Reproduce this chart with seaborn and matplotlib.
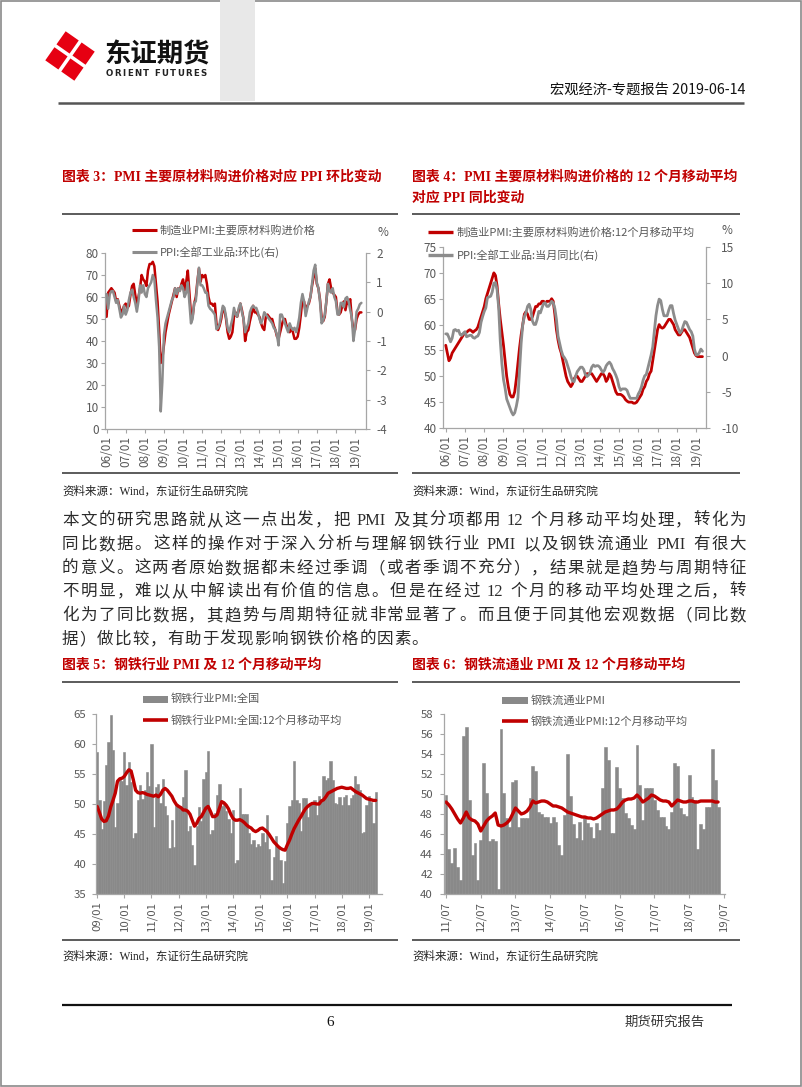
import re
import numpy as np
import matplotlib
matplotlib.use('Agg')
import matplotlib.pyplot as plt
import seaborn as sns
from matplotlib.lines import Line2D
from matplotlib.patches import Rectangle, Polygon

# ---------------- data ----------------
# Chart 3: monthly 2006-01 .. 2019-05
pmi_input_price = [
    51, 62, 63, 64, 63, 62, 58, 59, 56, 53, 54, 56,
    57, 55, 56, 61, 65, 66, 61, 57, 60, 64, 70, 68,
    67, 65, 72, 75, 75, 76, 74, 66, 58, 45, 30, 32,
    38, 44, 48, 52, 55, 58, 61, 64, 60, 64, 63, 66,
    68, 63, 67, 72, 62, 52, 51, 57, 60, 67, 73, 67,
    70, 69, 70, 66, 60, 57, 57, 56, 57, 48, 45, 47,
    50, 55, 54, 50, 44, 41, 42, 44, 51, 53, 51, 54,
    57, 54, 50, 40, 44, 45, 49, 52, 56, 53, 53, 52,
    51, 48, 46, 45, 51, 52, 51, 50, 50, 47, 45, 42,
    41, 44, 47, 50, 50, 47, 46, 44, 46, 44, 41, 41,
    42, 46, 52, 59, 58, 53, 56, 57, 60, 65, 69, 73,
    66, 64, 59, 51, 49, 51, 58, 66, 68, 64, 62, 61,
    60, 53, 52, 53, 56, 58, 54, 58, 57, 59, 50, 45,
    45, 50, 52, 53, 53,
]
ppi_mom = [
    0.6, 0.1, 0.6, 0.7, 0.7, 0.5, 0.3, 0.4, 0.1, -0.2, -0.1, 0.2,
    -0.1, 0.05, 0.4, 0.65, 0.75, 0.5, 0.3, 0.0, 0.35, 0.9, 0.65, 0.9,
    0.6, 0.5, 0.8, 0.9, 1.0, 1.25, 1.1, 0.4, -0.2, -1.2, -3.4, -2.4,
    -0.8, -0.4, -0.2, 0.0, 0.2, 0.4, 0.5, 0.8, 0.6, 0.8, 0.7, 0.9,
    0.8, 0.5, 0.65, 1.0, 0.3, -0.4, -0.25, 0.3, 0.35, 0.95, 1.5, 0.9,
    0.9, 0.8, 0.65, 0.65, 0.2, 0.1, 0.05, -0.02, -0.1, -0.6, -0.55, -0.4,
    -0.1, 0.2, 0.13, -0.17, -0.55, -0.7, -0.47, -0.25, 0.13, -0.1, -0.17, 0.13,
    0.28, -0.02, -0.25, -0.7, -0.55, -0.4, -0.02, 0.13, 0.2, 0.13, 0.13, -0.02,
    -0.25, -0.4, -0.25, -0.02, -0.1, -0.17, -0.25, -0.32, -0.4, -0.55, -0.62, -0.8,
    -1.15, -0.1, -0.1, -0.25, -0.4, -0.55, -0.7, -0.4, -0.55, -0.62, -0.55, -0.7,
    -0.5, -0.2, 0.3, 0.6, 0.35, -0.15, 0.1, 0.35, 0.5, 0.95, 1.4, 1.6,
    1.0, 0.8, 0.35, -0.4, -0.3, -0.1, 0.35, 0.95, 0.7, 0.65, 0.8, 0.5,
    0.35, -0.1, -0.1, 0.3, 0.3, 0.15, 0.45, 0.5, 0.35, 0.05, -0.2, -1.0,
    -0.6, 0.0, 0.1, 0.25, 0.3,
]
# Chart 4: monthly 2006-01 .. 2019-05
pmi_input_price_ma12 = [
    56, 54.5, 53, 53.5, 54.5, 55, 55.5, 56, 56.5, 57, 57.5, 58,
    58.5, 58.5, 58.8, 59, 58.8, 58.5, 58.8, 59, 59.5, 60.5, 61.5, 62.5,
    63.5, 65, 66, 67, 68, 69, 70, 69.5, 67.5, 64, 61, 58.5,
    56, 53, 50, 48, 46.5, 46, 46, 47, 49.5, 52.5, 55.5, 58,
    60, 62, 62.5, 62, 61, 61, 61.5, 62.5, 63.5, 63.5, 64, 64,
    64.5, 64.5, 64, 64.5, 64.5, 64.5, 65, 64.5, 62, 59, 57, 55.5,
    54.5, 53, 51.5, 50, 49, 48.5, 48, 48.5, 49.5, 50, 50, 49.5,
    49, 49, 49.5, 50, 50.5, 50.5, 50.5, 50.5, 50, 49.5, 49, 49.5,
    50, 50.5, 50.5, 50, 49, 49.5, 50.5, 50, 49, 48, 47, 46.5,
    46.5, 46.5, 46.3, 46, 45.5, 45.2, 45, 45, 45, 44.8, 44.8, 45,
    45.5, 46, 46.5, 47.5, 48, 49, 49.5, 50.5, 51, 53, 55, 57,
    59, 60, 59.5, 59.3, 59.5, 60, 60.5, 61, 61, 60.5, 60, 59,
    58.5, 58, 58, 58.5, 59, 59, 58.5, 58, 57.5, 56.5, 55.5, 54.5,
    54, 53.8, 53.8, 53.8, 53.8,
]
ppi_yoy = [
    3.0, 3.0, 2.5, 1.9, 2.4, 3.5, 3.6, 3.4, 3.5, 2.9, 2.8, 3.1,
    3.3, 2.6, 2.7, 2.8, 2.8, 2.5, 2.4, 2.6, 2.7, 3.2, 4.6, 5.4,
    6.1, 6.6, 8.0, 8.1, 8.2, 8.8, 10.0, 10.1, 9.1, 6.6, 2.0, -1.1,
    -3.3, -4.5, -6.0, -6.6, -7.2, -7.8, -8.2, -7.9, -7.0, -5.8, -2.1, 1.7,
    4.3, 5.4, 5.9, 6.8, 7.1, 6.4, 4.8, 4.3, 4.3, 5.0, 6.1, 5.9,
    6.6, 7.2, 7.3, 6.8, 6.8, 7.1, 7.5, 7.3, 6.5, 5.0, 2.7, 1.7,
    0.7, 0.0, -0.3, -0.7, -1.4, -2.1, -2.9, -3.5, -3.6, -2.8, -2.2, -1.9,
    -1.6, -1.6, -1.9, -2.6, -2.9, -2.7, -2.3, -1.6, -1.3, -1.5, -1.4, -1.4,
    -1.6, -2.0, -2.3, -2.0, -1.4, -1.1, -0.9, -1.2, -1.8, -2.2, -2.7, -3.3,
    -4.3, -4.8, -4.6, -4.6, -4.6, -4.8, -5.4, -5.9, -5.9, -5.9, -5.9, -5.9,
    -5.3, -4.9, -4.3, -3.4, -2.8, -2.6, -1.7, -0.8, 0.1, 1.2, 3.3, 5.5,
    6.9, 7.8, 7.6, 6.4, 5.5, 5.5, 5.5, 6.3, 6.9, 6.9, 5.8, 4.9,
    4.3, 3.7, 3.1, 3.4, 4.1, 4.7, 4.6, 4.1, 3.6, 3.3, 2.7, 0.9,
    0.1, 0.1, 0.4, 0.9, 0.6,
]
ticks_0619 = ['06/01', '07/01', '08/01', '09/01', '10/01', '11/01', '12/01',
              '13/01', '14/01', '15/01', '16/01', '17/01', '18/01', '19/01']

# Chart 5: monthly 2009-01 .. 2019-04
steel_pmi = [
    58.7, 50.7, 45.8, 50.5, 56.5, 60.3, 64.8, 59.0, 46.1, 50.2, 54.1, 53.9,
    58.7, 53.2, 57.0, 53.6, 44.3, 45.2, 50.7, 53.1, 50.8, 52.4, 55.3, 53.0,
    60.0, 46.2, 52.8, 53.3, 50.1, 54.2, 49.7, 48.2, 42.6, 47.3, 42.9, 49.8,
    49.7, 49.2, 51.2, 55.7, 45.5, 46.3, 43.2, 39.8, 46.4, 49.5, 47.2, 54.2,
    55.3, 58.9, 45.0, 45.6, 48.5, 51.5, 53.3, 49.6, 50.1, 48.8, 47.5, 45.1,
    49.0, 40.1, 40.6, 52.6, 48.3, 48.3, 48.4, 45.1, 43.4, 44.0, 42.9, 43.3,
    43.0, 45.1, 43.6, 48.2, 42.5, 37.3, 41.2, 44.6, 42.9, 40.7, 36.8, 40.5,
    46.8, 49.6, 50.6, 57.1, 50.7, 50.1, 45.5, 51.0, 51.0, 47.9, 50.1, 50.4,
    50.7, 48.2, 51.3, 50.8, 54.6, 54.0, 54.3, 57.1, 54.0, 50.1, 50.0, 51.2,
    49.8, 51.2, 51.5, 49.9, 51.0, 51.5, 54.6, 53.4, 52.3, 45.1, 45.4, 49.8,
    51.3, 50.3, 46.8, 52.0,
]
steel_pmi_ma12 = [
    49.6, 48.6, 47.5, 47.1, 47.2, 48.0, 49.5, 50.6, 51.8, 53.8, 54.2, 54.3,
    54.6, 55.2, 55.7, 55.5, 54.0, 52.3, 51.9, 51.8, 51.9, 51.8, 51.6, 51.5,
    51.4, 51.3, 51.5, 51.2, 51.6, 52.3, 52.6, 52.3, 51.8, 51.3, 50.5, 49.9,
    49.6, 49.4, 49.0, 49.0, 48.8, 48.3, 47.3, 46.3, 46.8, 47.6, 47.9, 48.6,
    49.3, 49.6, 48.8, 47.9, 47.9, 48.2, 49.3, 50.4, 50.2, 49.8, 49.2, 48.3,
    47.6, 47.3, 47.3, 47.4, 47.2, 46.9, 46.5, 46.2, 46.0, 45.6, 45.4, 45.6,
    45.9, 46.0, 45.7, 45.4, 44.9, 44.3, 43.7, 43.3, 42.9, 42.6, 42.4, 42.3,
    43.2, 44.0, 45.0, 45.9, 46.6, 47.3, 47.9, 48.6, 49.2, 49.6, 49.9, 50.1,
    50.1, 50.0, 50.0, 50.5, 50.7, 51.2, 51.8, 52.0, 52.2, 52.4, 52.6, 52.7,
    52.8, 52.7, 52.6, 52.6, 52.7, 52.4, 52.1, 51.9, 51.7, 51.5, 51.2, 50.9,
    50.8, 50.7, 50.6, 50.6,
]
ticks_0919 = ['09/01', '10/01', '11/01', '12/01', '13/01', '14/01',
              '15/01', '16/01', '17/01', '18/01', '19/01']

# Chart 6: monthly 2011-07 .. 2019-05
circ_pmi = [
    49.9, 44.5, 43.1, 44.6, 42.7, 41.4, 55.8, 56.7, 49.4, 43.9, 45.1, 41.4,
    45.4, 53.1, 50.1, 45.3, 45.5, 45.3, 40.5, 56.5, 50.1, 47.6, 46.7, 51.2,
    51.4, 46.7, 47.6, 47.6, 47.6, 49.6, 52.8, 52.3, 48.2, 48.0, 47.7, 47.7,
    47.1, 47.7, 47.2, 44.9, 43.9, 47.9, 54.0, 49.8, 47.0, 45.6, 47.2, 45.4,
    47.7, 47.1, 46.7, 45.6, 47.1, 46.4, 50.6, 54.7, 53.4, 46.1, 46.1, 52.7,
    50.6, 49.6, 48.1, 47.6, 46.9, 46.5, 54.9, 50.9, 47.4, 50.6, 50.6, 50.6,
    49.4, 48.4, 47.7, 47.7, 46.8, 46.5, 48.2, 53.1, 52.8, 48.6, 48.0, 47.8,
    51.9, 49.7, 49.4, 44.5, 47.0, 46.5, 48.7, 48.7, 54.5, 51.4, 48.7,
]
circ_pmi_ma12 = [
    49.2, 48.9, 48.5, 48.0, 47.5, 47.1, 47.6, 48.2, 47.6, 47.4, 47.3, 47.0,
    46.3, 46.8, 47.3, 47.6, 47.8, 48.1, 46.9, 46.8, 46.9, 47.1, 47.4, 48.0,
    48.6, 48.3, 48.0, 48.1, 48.3, 48.7, 49.3, 49.1, 49.2, 49.3, 49.3, 49.2,
    49.0, 48.8, 48.8, 48.7, 48.6, 48.4, 48.2, 48.1, 48.0, 47.9, 47.8, 47.7,
    47.7, 47.6, 47.6, 47.5, 47.6, 47.8, 48.0, 48.2, 48.3, 48.4, 48.4, 48.5,
    48.8, 49.2, 49.4, 49.5, 49.5, 49.6, 49.9, 49.6, 49.2, 49.4, 49.6, 49.9,
    49.8, 49.6, 49.4, 49.3, 49.3, 49.2, 48.8, 49.1, 49.4, 49.3, 49.2, 49.2,
    49.3, 49.3, 49.2, 49.2, 49.3, 49.3, 49.3, 49.3, 49.3, 49.2, 49.2,
]
ticks_1119 = ['11/07', '12/07', '13/07', '14/07', '15/07', '16/07',
              '17/07', '18/07', '19/07']

paragraph = [
    '本文的研究思路就从这一点出发，把 PMI 及其分项都用 12 个月移动平均处理，转化为',
    '同比数据。这样的操作对于深入分析与理解钢铁行业 PMI 以及钢铁流通业 PMI 有很大',
    '的意义。这两者原始数据都未经过季调（或者季调不充分），结果就是趋势与周期特征',
    '不明显，难以从中解读出有价值的信息。但是在经过 12 个月的移动平均处理之后，转',
    '化为了同比数据，其趋势与周期特征就非常显著了。而且便于同其他宏观数据（同比数',
    '据）做比较，有助于发现影响钢铁价格的因素。',
]

# ---------------- setup ----------------
sns.set_theme(style='white')
plt.rcParams['font.family'] = ['Noto Sans CJK SC', 'DejaVu Sans']
plt.rcParams['axes.unicode_minus'] = False

W, H = 802, 1087
fig = plt.figure(figsize=(W / 100, H / 100), dpi=100)
fig.patch.set_facecolor('white')
renderer = fig.canvas.get_renderer()

RED = '#C00000'
GRAY = '#8C8C8C'
BAR = '#898989'
AXC = '#A6A6A6'
TLC = '#595959'
SERIF = ['Liberation Serif', 'Noto Sans CJK SC']
CJK = ['Noto Sans CJK SC', 'DejaVu Sans']


def fx(x):
    return x / W


def fy(y):
    return 1 - y / H


def rect(l, t, r, b):
    return [l / W, 1 - b / H, (r - l) / W, (b - t) / H]


def hline(x0, x1, y, lw=1.2, color='#404040'):
    fig.add_artist(Line2D([fx(x0), fx(x1)], [fy(y), fy(y)], color=color, lw=lw,
                          transform=fig.transFigure, solid_capstyle='butt'))


def ftext(x, y, s, **kw):
    return fig.text(fx(x), fy(y), s, **kw)


def justify(line, x0, x1, y, per_char=False, space=3.5, **kw):
    pat = r' |\S' if per_char else r'[A-Za-z0-9]+| |\S'
    toks = re.findall(pat, line)
    items = []
    for t in toks:
        if t == ' ':
            items.append((None, space))
        else:
            tx = fig.text(0, fy(y), t, va='center', ha='left', **kw)
            items.append((tx, tx.get_window_extent(renderer).width))
    gap = ((x1 - x0) - sum(w for _, w in items)) / max(len(items) - 1, 1)
    x = x0
    for tx, w in items:
        if tx is not None:
            tx.set_x(fx(x))
        x += w + gap


def leg_line(x0, x1, y, color, lw):
    fig.add_artist(Line2D([fx(x0), fx(x1)], [fy(y), fy(y)], color=color, lw=lw,
                          transform=fig.transFigure, solid_capstyle='butt'))


def leg_patch(x0, x1, y, h, color):
    fig.add_artist(Rectangle((fx(x0), fy(y + h / 2)), (x1 - x0) / W, h / H,
                             transform=fig.transFigure, color=color, lw=0))


def style_main(ax, ypad, size=8.5, xsize=8.5):
    ax.grid(False)
    ax.set_xlabel('')
    ax.set_ylabel('')
    ax.set_facecolor('none')
    for k, s in ax.spines.items():
        s.set_visible(k in ('left', 'bottom'))
        s.set_color(AXC)
        s.set_linewidth(0.9)
    ax.tick_params(axis='y', left=True, right=False, direction='out', length=3,
                   width=0.8, color=AXC, labelcolor=TLC, labelsize=size, pad=ypad)
    ax.tick_params(axis='x', bottom=True, top=False, direction='out', length=3,
                   width=0.8, color=AXC, labelcolor=TLC, labelsize=xsize, pad=2,
                   labelrotation=90)


def style_twin(ax, ypad, size=8.5):
    ax.grid(False)
    ax.set_xlabel('')
    ax.set_ylabel('')
    for k, s in ax.spines.items():
        s.set_visible(k == 'right')
        s.set_color(AXC)
        s.set_linewidth(0.9)
    ax.tick_params(axis='y', right=True, left=False, labelright=True, labelleft=False,
                   direction='out', length=3, width=0.8, color=AXC, labelcolor=TLC,
                   labelsize=size, pad=ypad)


# ---------------- page decorations ----------------
fig.add_artist(Rectangle((0.0008, 0.0006), 0.998, 0.9986, fill=False, ec='#8a8a8a',
                         lw=1.2, transform=fig.transFigure))
fig.add_artist(Rectangle((fx(220), fy(101)), 35 / W, 101 / H, transform=fig.transFigure,
                         fc='#E8E8E8', ec='none'))
# logo icon
cx, cy, th = 70, 56, np.deg2rad(35)
s_, g_ = 16, 3.5
d_ = s_ / 2 + g_ / 2
for sx in (-1, 1):
    for sy in (-1, 1):
        pts = []
        for a, b in [(-1, -1), (1, -1), (1, 1), (-1, 1)]:
            px, py = sx * d_ + a * s_ / 2, sy * d_ + b * s_ / 2
            rx = px * np.cos(th) - py * np.sin(th)
            ry = px * np.sin(th) + py * np.cos(th)
            pts.append((fx(cx + rx), fy(cy + ry)))
        fig.add_artist(Polygon(pts, closed=True, transform=fig.transFigure,
                               fc='#E60012', ec='none', joinstyle='round'))
ftext(104, 55, '东证期货', fontsize=19, fontweight='bold', family=CJK,
      va='center', ha='left', color='#111111')
justify('ORIENT FUTURES', 106, 207, 74, per_char=True, space=3, fontsize=6.2,
        fontweight='bold', family=['DejaVu Sans'], color='#222222')
hline(58, 744, 103, lw=1.8, color='#555555')
ftext(745, 90, '宏观经济-专题报告 2019-06-14', fontsize=10.3, family=CJK,
      ha='right', va='center', color='#111111')

# footer
hline(62, 732, 1005, lw=1.6, color='#111111')
ftext(330, 1022, '6', fontsize=11, family=SERIF, ha='center', va='center', color='#111111')
ftext(665, 1022, '期货研究报告', fontsize=9.6, family=CJK, ha='center', va='center',
      color='#333333')

# ---------------- titles / separators / sources ----------------
tkw = dict(fontsize=10, fontweight='bold', color=RED, family=SERIF, va='center', ha='left')
ftext(62, 177, '图表 3：PMI 主要原材料购进价格对应 PPI 环比变动', **tkw)
ftext(412, 177, '图表 4：PMI 主要原材料购进价格的 12 个月移动平均', **tkw)
ftext(412, 198, '对应 PPI 同比变动', **tkw)
ftext(62, 665, '图表 5：钢铁行业 PMI 及 12 个月移动平均', **tkw)
ftext(412, 665, '图表 6：钢铁流通业 PMI 及 12 个月移动平均', **tkw)
for (a, b) in ((62, 398), (412, 740)):
    hline(a, b, 213.5)
    hline(a, b, 473)
    hline(a, b, 682)
    hline(a, b, 940)
skw = dict(fontsize=8.3, family=SERIF, color='#222222', va='center', ha='left')
for (x, y) in ((62, 492), (412, 492), (62, 957), (412, 957)):
    ftext(x, y, '资料来源：Wind，东证衍生品研究院', **skw)

# paragraph
pkw = dict(fontsize=11.9, family=SERIF, color='#2b2b2b', fontweight='light')
ys = [521, 545, 569, 592, 616, 640]
for i, (line, y) in enumerate(zip(paragraph, ys)):
    if i < len(paragraph) - 1:
        justify(line, 62, 746, y, space=4, **pkw)
    else:
        justify(line, 62, 428, y, space=4, **pkw)

lkw = dict(fontsize=8, family=CJK, color=TLC, va='center', ha='left')

# ---------------- chart 3 ----------------
ax3 = fig.add_axes(rect(105, 253, 366, 429))
i3 = np.arange(len(pmi_input_price))
sns.lineplot(x=i3, y=pmi_input_price, ax=ax3, color=RED, lw=1.8)
ax3.set_ylim(0, 80)
ax3.set_yticks(range(0, 81, 10))
ax3.set_xlim(-1.0, 162.9)
ax3.set_xticks(range(0, 157, 12))
ax3.set_xticklabels(ticks_0619)
style_main(ax3, ypad=1.5)
ax3b = ax3.twinx()
sns.lineplot(x=i3, y=ppi_mom, ax=ax3b, color=GRAY, lw=1.8)
ax3b.set_ylim(-4, 2)
ax3b.set_yticks(range(-4, 3))
ax3b.set_xlim(-1.0, 162.9)
style_twin(ax3b, ypad=4.5)
leg_line(132, 157, 230, RED, 2.2)
ftext(160, 230, '制造业PMI:主要原材料购进价格', **lkw)
leg_line(132, 157, 252, GRAY, 2.2)
ftext(160, 252, 'PPI:全部工业品:环比(右)', **lkw)
ftext(383, 232, '%', fontsize=8.5, family=CJK, color=TLC, va='center', ha='center')

# ---------------- chart 4 ----------------
ax4 = fig.add_axes(rect(443, 247, 706, 428))
i4 = np.arange(len(pmi_input_price_ma12))
sns.lineplot(x=i4, y=pmi_input_price_ma12, ax=ax4, color=RED, lw=2.0)
ax4.set_ylim(40, 75)
ax4.set_yticks(range(40, 76, 5))
ax4.set_xlim(-1.7, 162.2)
ax4.set_xticks(range(0, 157, 12))
ax4.set_xticklabels(ticks_0619)
style_main(ax4, ypad=1.5)
ax4b = ax4.twinx()
sns.lineplot(x=i4, y=ppi_yoy, ax=ax4b, color=GRAY, lw=2.0)
ax4b.set_ylim(-10, 15)
ax4b.set_yticks(range(-10, 16, 5))
ax4b.set_xlim(-1.7, 162.2)
style_twin(ax4b, ypad=8)
leg_line(428, 453, 232, RED, 2.4)
ftext(457, 232, '制造业PMI:主要原材料购进价格:12个月移动平均', **lkw)
leg_line(428, 453, 255, GRAY, 2.4)
ftext(457, 255, 'PPI:全部工业品:当月同比(右)', **lkw)
ftext(727, 231, '%', fontsize=8.5, family=CJK, color=TLC, va='center', ha='center')

# ---------------- chart 5 ----------------
ax5 = fig.add_axes(rect(96, 714, 382, 894))
i5 = np.arange(len(steel_pmi))
sns.barplot(x=i5, y=steel_pmi, ax=ax5, color=BAR, width=1.0, native_scale=True,
            saturation=1, errorbar=None, linewidth=0.4, edgecolor=BAR)
sns.lineplot(x=i5, y=steel_pmi_ma12, ax=ax5, color=RED, lw=2.4)
ax5.set_ylim(35, 65)
ax5.set_yticks(range(35, 66, 5))
ax5.set_xlim(-0.5, 125.8)
ax5.set_xticks(range(0, 121, 12))
ax5.set_xticklabels(ticks_0919)
style_main(ax5, ypad=4, size=8.2, xsize=8.2)
leg_patch(143, 168, 699, 7, BAR)
ftext(171, 699, '钢铁行业PMI:全国', **lkw)
leg_line(143, 168, 720, RED, 2.6)
ftext(171, 720, '钢铁行业PMI:全国:12个月移动平均', **lkw)

# ---------------- chart 6 ----------------
ax6 = fig.add_axes(rect(444, 714, 725, 894))
i6 = np.arange(len(circ_pmi))
sns.barplot(x=i6, y=circ_pmi, ax=ax6, color=BAR, width=1.0, native_scale=True,
            saturation=1, errorbar=None, linewidth=0.4, edgecolor=BAR)
sns.lineplot(x=i6, y=circ_pmi_ma12, ax=ax6, color=RED, lw=2.4)
ax6.set_ylim(40, 58)
ax6.set_yticks(range(40, 59, 2))
ax6.set_xlim(-0.7, 96.4)
ax6.set_xticks(range(0, 97, 12))
ax6.set_xticklabels(ticks_1119)
style_main(ax6, ypad=5, size=8.2, xsize=8.2)
leg_patch(502, 528, 700, 7, BAR)
ftext(531, 700, '钢铁流通业PMI', **lkw)
leg_line(502, 528, 721, RED, 2.6)
ftext(531, 721, '钢铁流通业PMI:12个月移动平均', **lkw)

fig.savefig('out.png', dpi=100, facecolor='white')
